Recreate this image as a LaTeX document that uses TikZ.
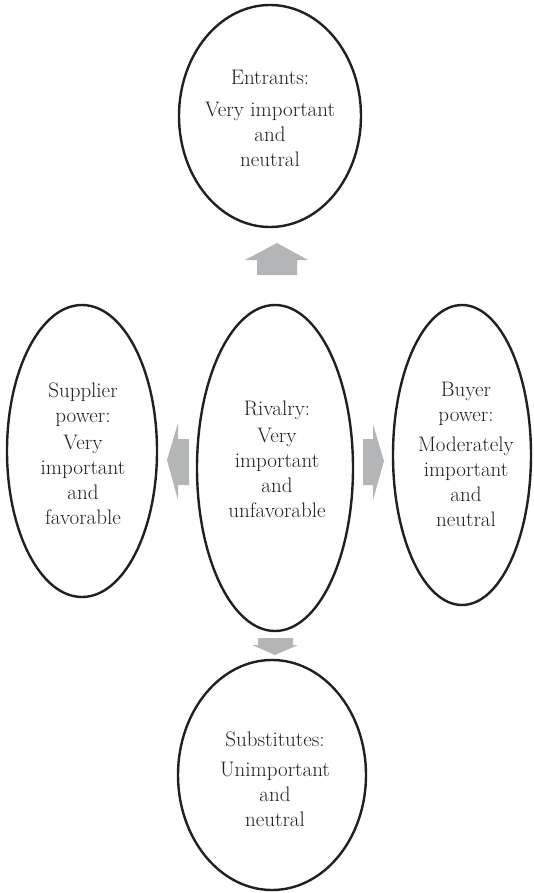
\documentclass[tikz,border=0pt]{standalone}
\usetikzlibrary{shapes.geometric}
\definecolor{ink}{HTML}{231F20}
\definecolor{arrowgray}{HTML}{B4B5B7}
\begin{document}
\begin{tikzpicture}[x=1pt,y=-1pt,
  force/.style={draw=ink, line width=2.4pt, ellipse, inner sep=0pt},
  forcetext/.style={align=center, font=\fontsize{21}{25}\selectfont, text=ink, inner sep=0pt},
  blockarrow/.style={fill=arrowgray, draw=none}]
\useasboundingbox (0,0) rectangle (533,893);

% the five forces
\node[force, minimum width=182pt, minimum height=222pt] (entrants)    at (270,116) {};
\node[force, minimum width=156pt, minimum height=326pt] (rivalry)     at (275,468) {};
\node[force, minimum width=150pt, minimum height=292pt] (supplier)    at (82,451)  {};
\node[force, minimum width=138pt, minimum height=300pt] (buyer)       at (462,455) {};
\node[force, minimum width=188pt, minimum height=230pt] (substitutes) at (272,775) {};

% their assessments
\node[forcetext] (tEntrants) at (270,118) {Entrants:\\[7pt]Very important\\and\\neutral};
\node[forcetext] (tRivalry) at (277,459) {Rivalry:\\[2pt]Very\\important\\and\\unfavorable};
\node[forcetext] (tSupplier) at (83,454) {Supplier\\power:\\[2pt]Very\\important\\and\\favorable};
\node[forcetext] (tBuyer) at (466,454) {Buyer\\power:\\[5pt]Moderately\\important\\and\\neutral};
\node[forcetext] (tSubstitutes) at (275,779) {Substitutes:\\[5pt]Unimportant\\and\\neutral};

% block arrows pointing from rivalry to the other forces
\fill[blockarrow] (277,243) -- (308,260) -- (297,260) -- (297,275) -- (257,275) -- (257,260) -- (245,260) -- cycle;
\fill[blockarrow] (258,638) -- (293,638) -- (293,645) -- (298,645) -- (275,655) -- (252,645) -- (258,645) -- cycle;
\fill[blockarrow] (167,460) -- (178,423) -- (178,439) -- (189,439) -- (189,485) -- (178,485) -- (178,500) -- cycle;
\fill[blockarrow] (363,439) -- (373,439) -- (373,424) -- (384,461) -- (373,500) -- (373,485) -- (363,485) -- cycle;
\end{tikzpicture}
\end{document}
